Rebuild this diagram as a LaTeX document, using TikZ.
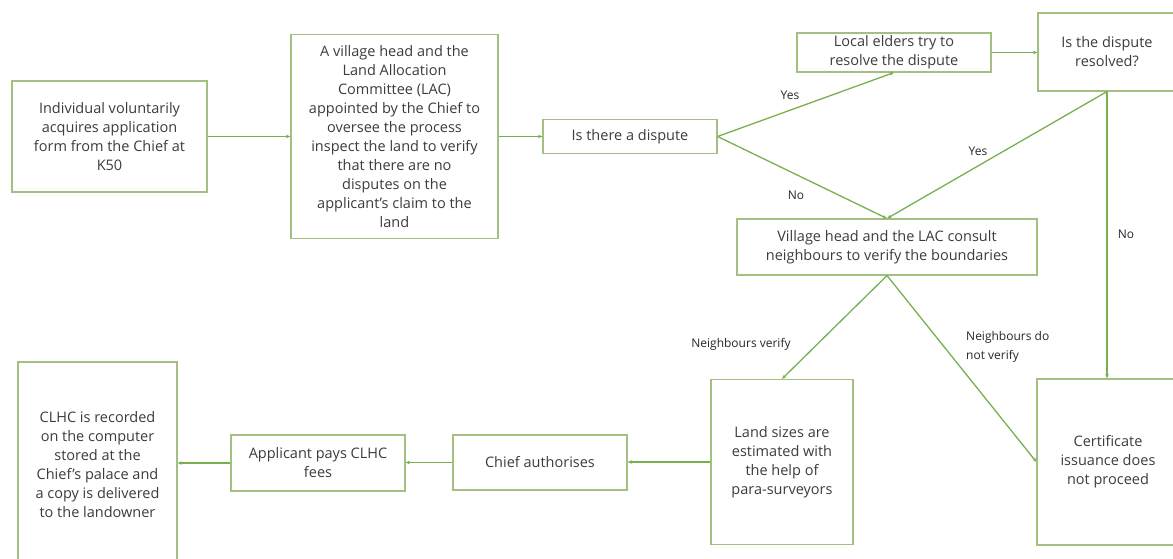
\documentclass[tikz,border=0pt]{standalone}
\usepackage{fontspec}
\setmainfont{Open Sans}
\usetikzlibrary{arrows.meta}
\definecolor{boxc}{RGB}{163,192,130}
\definecolor{arrc}{RGB}{120,176,80}
\definecolor{txtc}{RGB}{60,60,60}
\definecolor{lblc}{RGB}{40,40,40}
\tikzset{
  flowbox/.style={draw=boxc, line width=1.1pt, inner sep=0pt, align=center, text=txtc,
    font=\fontsize{14.5}{19}\selectfont},
  flowarrow/.style={draw=arrc, line width=1.3pt, -{Stealth[length=4.5pt,width=3.5pt]}},
  flowlabel/.style={text=lblc, inner sep=0pt, font=\fontsize{12}{19}\selectfont}
}
\begin{document}
\begin{tikzpicture}[x=1pt,y=-1pt]
\useasboundingbox (0,0) rectangle (1173,559);
\clip (0,0) rectangle (1173,559);
\fill[white] (0,0) rectangle (1173,559);

\node[flowbox, minimum width=195pt, minimum height=111pt] (b1) at (109.5,136.5)
  {Individual voluntarily\\acquires application\\form from the Chief at\\K50};
\node[flowbox, minimum width=207pt, minimum height=204pt] (b2) at (394.5,136.5)
  {A village head and the\\Land Allocation\\Committee (LAC)\\appointed by the Chief to\\oversee the process\\inspect the land to verify\\that there are no\\disputes on the\\applicant’s claim to the\\land};
\node[flowbox, minimum width=174pt, minimum height=34pt] (b3) at (630,136.5)
  {Is there a dispute};
\node[flowbox, minimum width=194pt, minimum height=39pt] (b4) at (894,52.5)
  {Local elders try to\\resolve the dispute};
\node[flowbox, minimum width=138pt, minimum height=78pt] (b5) at (1107,52)
  {Is the dispute\\resolved?};
\node[flowbox, minimum width=300pt, minimum height=56pt] (b6) at (887,247)
  {Village head and the LAC consult\\neighbours to verify the boundaries};
\node[flowbox, minimum width=142pt, minimum height=165pt] (b7) at (782,462)
  {Land sizes are\\estimated with\\the help of\\para-surveyors};
\node[flowbox, minimum width=142pt, minimum height=166pt] (b8) at (1108,462)
  {Certificate\\issuance does\\not proceed};
\node[flowbox, minimum width=174pt, minimum height=55pt] (b9) at (540,462.5)
  {Chief authorises};
\node[flowbox, minimum width=174pt, minimum height=56pt] (b10) at (318,463)
  {Applicant pays CLHC\\fees};
\node[flowbox, minimum width=159pt, minimum height=206pt] (b11) at (97.5,465)
  {CLHC is recorded\\on the computer\\stored at the\\Chief’s palace and\\a copy is delivered\\to the landowner};

\draw[flowarrow] (b1.east) -- (b1.east -| b2.west);
\draw[flowarrow] (b2.east) -- (b2.east -| b3.west);
\draw[flowarrow] (b3.east) -- (b4.south);
\draw[flowarrow] (b3.east) -- (b6.north);
\draw[flowarrow] (b4.east) -- (b4.east -| b5.west);
\draw[flowarrow] (b5.south) -- (b6.north);
\draw[flowarrow] (b5.south) -- (b5.south |- b8.north);
\draw[flowarrow] (b6.south) -- (b7.north);
\draw[flowarrow] (b6.south) -- (b8.west);
\draw[flowarrow] (b7.west) -- (b7.west -| b9.east);
\draw[flowarrow] (b9.west) -- (b9.west -| b10.east);
\draw[flowarrow] (b10.west) -- (b10.west -| b11.east);

\node[flowlabel] (l1) at (790,95) {Yes};
\node[flowlabel] (l2) at (796,195) {No};
\node[flowlabel] (l3) at (978,151) {Yes};
\node[flowlabel] (l4) at (1126,234) {No};
\node[flowlabel] (l5) at (741,344) {Neighbours verify};
\node[flowlabel, align=left, anchor=west] (l6) at (966,346.5) {Neighbours do\\not verify};
\end{tikzpicture}
\end{document}
